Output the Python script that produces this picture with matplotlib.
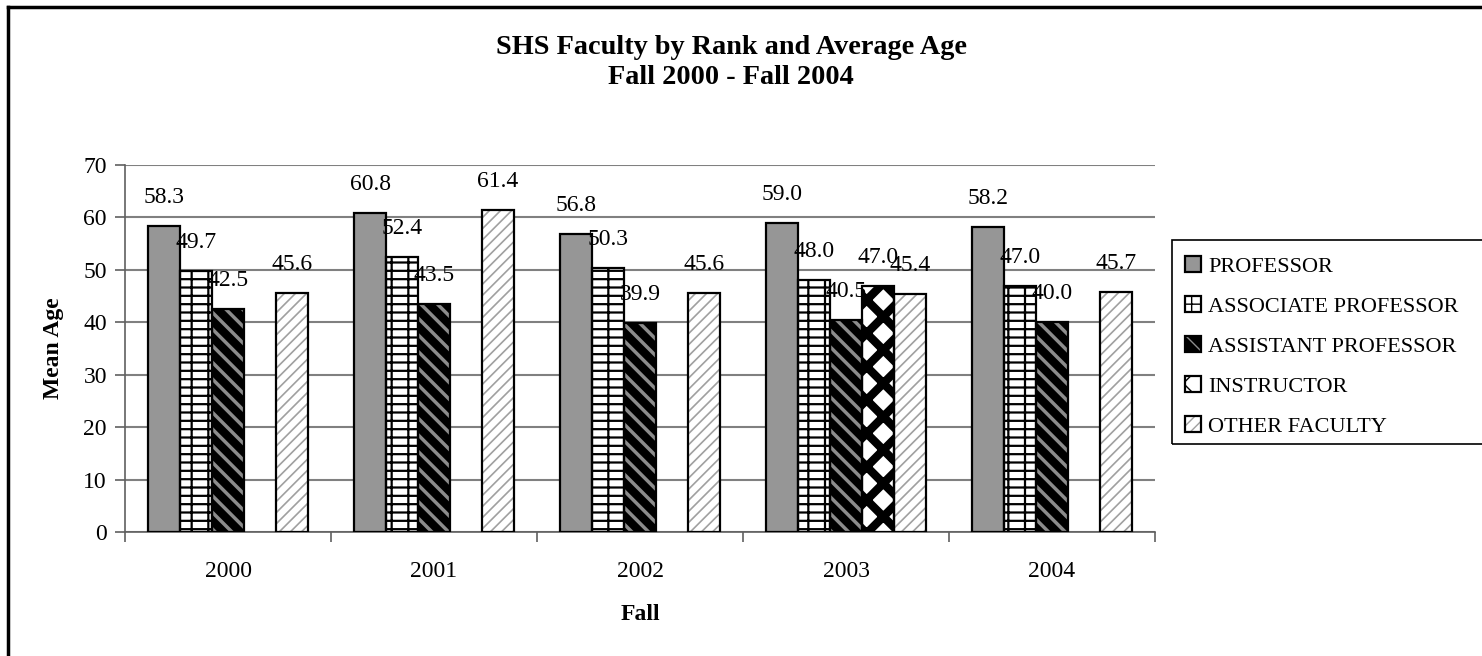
import numpy as np
import matplotlib
matplotlib.use('Agg')
import matplotlib.pyplot as plt
from matplotlib.patches import Patch, Rectangle
from matplotlib.lines import Line2D
from matplotlib.legend_handler import HandlerTuple

plt.rcParams['font.family'] = ['Liberation Serif', 'DejaVu Serif']

years = ['2000', '2001', '2002', '2003', '2004']
ranks = ['PROFESSOR', 'ASSOCIATE PROFESSOR', 'ASSISTANT PROFESSOR',
         'INSTRUCTOR', 'OTHER FACULTY']
professor = [58.3, 60.8, 56.8, 59.0, 58.2]
associate = [49.7, 52.4, 50.3, 48.0, 47.0]
assistant = [42.5, 43.5, 39.9, 40.5, 40.0]
instructor = [np.nan, np.nan, np.nan, 47.0, np.nan]
other = [45.6, 61.4, 45.6, 45.4, 45.7]
series = [professor, associate, assistant, instructor, other]

# face, hatch, hatch colour, hatch width
styles = [
    ('#969696', None, '#969696', 1.0),
    ('white', '+-', 'black', 1.6),
    ('black', '\\\\', '#8c8c8c', 2.5),
    ('white', 'x', 'black', 6.0),
    ('white', '///', '#a0a0a0', 1.2),
]

fs = 17
W, H = 1482, 656
fig = plt.figure(figsize=(W / 100, H / 100), dpi=100)
ax = fig.add_axes([125 / W, 1 - 532 / H, 1030 / W, 367 / H])

x = np.arange(len(years))
bw = 0.155
handles = []
for i, (vals, (fc, h, hc, hlw)) in enumerate(zip(series, styles)):
    pos = x + (i - 2) * bw
    with plt.rc_context({'hatch.linewidth': hlw}):
        ax.bar(pos, vals, bw, color=fc, hatch=h, edgecolor=hc, linewidth=0, zorder=3)
        hp = Patch(facecolor=fc, hatch=h, edgecolor=hc, linewidth=0)
    ax.bar(pos, vals, bw, fill=False, edgecolor='black', linewidth=1.6, zorder=4)
    op = Patch(fill=False, edgecolor='black', linewidth=1.6)
    handles.append((hp, op))
    for p, v in zip(pos, vals):
        if np.isnan(v):
            continue
        ax.annotate(f'{v:.1f}', (p, v), xytext=(0, 13), textcoords='offset points',
                    ha='center', va='bottom', fontsize=fs, zorder=5)

ax.set_xlim(-0.5, 4.5)
ax.set_ylim(0, 70)
ax.set_yticks(np.arange(0, 71, 10))
ax.yaxis.grid(True, color='#808080', linewidth=1.5, zorder=0)
ax.set_axisbelow(True)
ax.set_xticks(x)
ax.set_xticklabels(years)
ax.set_xticks(np.arange(-0.5, 5, 1), minor=True)
ax.tick_params(axis='x', which='major', length=0, pad=21, labelsize=fs)
ax.tick_params(axis='x', which='minor', length=7, width=1.2, color='#606060')
ax.tick_params(axis='y', length=7, width=1.2, color='#606060', labelsize=fs, pad=6)
for s in ['top', 'right']:
    ax.spines[s].set_visible(False)
ax.spines['left'].set_color('#606060')
ax.spines['bottom'].set_color('#606060')
ax.spines['left'].set_linewidth(1.2)
ax.spines['bottom'].set_linewidth(1.2)

ax.set_ylabel('Mean Age', fontsize=fs, fontweight='bold', labelpad=14)
ax.set_xlabel('Fall', fontsize=fs, fontweight='bold', labelpad=16)

fig.text(731 / W, 1 - 47 / H, 'SHS Faculty by Rank and Average Age',
         ha='center', va='center', fontsize=20.3, fontweight='bold')
fig.text(731 / W, 1 - 78 / H, 'Fall 2000 - Fall 2004',
         ha='center', va='center', fontsize=20.3, fontweight='bold')

leg = fig.legend(handles, ranks, loc='upper left',
                 bbox_to_anchor=(1185 / W, 1 - 256 / H), fontsize=16,
                 frameon=False, handler_map={tuple: HandlerTuple(ndivide=1)},
                 handlelength=0.7, handleheight=0.7, handletextpad=0.35,
                 labelspacing=0.88, borderpad=0, borderaxespad=0)

# legend frame running off the right edge, as in the original
fig.add_artist(Rectangle((1172 / W, 1 - 444 / H), 330 / W, 204 / H,
                         fill=False, edgecolor='black', lw=1.2,
                         transform=fig.transFigure))

# chart border (left and top edges visible)
fig.add_artist(Line2D([8 / W, 8 / W], [0, 1 - 7 / H], color='black', lw=2.5,
                      transform=fig.transFigure))
fig.add_artist(Line2D([8 / W, 1], [1 - 7 / H, 1 - 7 / H], color='black', lw=2.5,
                      transform=fig.transFigure))

fig.savefig('out.png', dpi=100)
